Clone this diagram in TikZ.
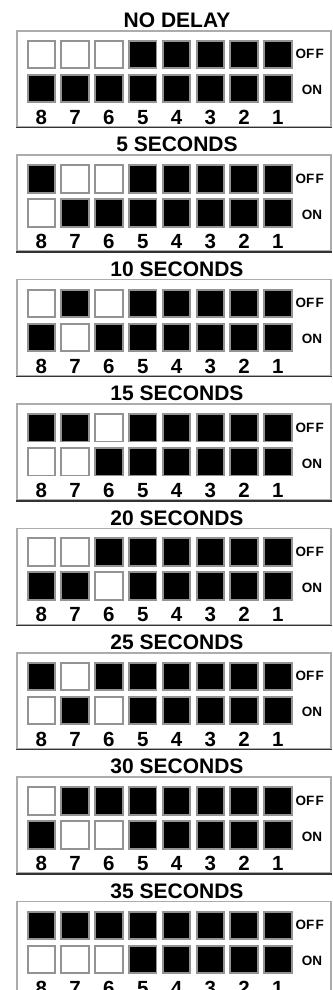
\documentclass[tikz,border=0pt]{standalone}
\usepackage{fontspec}
\setmainfont{Liberation Sans}
\begin{document}
\begin{tikzpicture}[x=1pt,y=-1pt,
  sw/.style={draw=gray!85, line width=1.9pt, minimum size=27.5pt, inner sep=0pt},
  ttl/.style={font=\fontsize{21}{21}\selectfont\bfseries, inner sep=0pt, anchor=base},
  num/.style={font=\fontsize{20.5}{20.5}\selectfont\bfseries, inner sep=0pt, anchor=base},
  lbl/.style={font=\fontsize{13.5}{13.5}\selectfont\bfseries, inner sep=0pt, anchor=base},
  frm/.style={draw=gray!65, line width=1.6pt, inner sep=0pt, minimum width=314pt, minimum height=96pt, anchor=north west},
  frmb/.style={draw=black!80, line width=1.4pt}]
\useasboundingbox (0,0) rectangle (332,990);
\fill[white] (0,0) rectangle (332,990);
\foreach \p/\t in {0/NO DELAY,1/5 SECONDS,2/10 SECONDS,3/15 SECONDS,4/20 SECONDS,5/25 SECONDS,6/30 SECONDS,7/35 SECONDS} {
  \pgfmathsetmacro\dy{124.4*\p}
  \node[ttl] (title\p) at (177,{27.5+\dy}) {\t};
  \node[frm] (frame\p) at (16,{30+\dy}) {};
  \draw[frmb] (frame\p.south west) -- (frame\p.south east);
  \foreach \i in {0,...,7} {
    \pgfmathtruncatemacro\lab{8-\i}
    \pgfmathtruncatemacro\bit{\i<3 ? mod(floor(\p/(2^\i)),2) : 2}
    \ifnum\bit=0 \def\offc{white}\def\onc{black}\else
      \ifnum\bit=1 \def\offc{black}\def\onc{white}\else
        \def\offc{black}\def\onc{black}\fi\fi
    \node[sw, fill=\offc] (off\p x\i) at ({41.3+33.8*\i},{54.5+\dy}) {};
    \node[sw, fill=\onc] (on\p x\i) at ({41.3+33.8*\i},{88.5+\dy}) {};
    \node[num] (n\p x\i) at ({41.3+33.8*\i},{124.3+\dy}) {\lab};
  }
  \node[lbl] (offl\p) at (309.7,{58.9+\dy}) {OF\kern1.2pt F};
  \node[lbl] (onl\p) at (312,{94.9+\dy}) {ON};
}
\end{tikzpicture}
\end{document}
